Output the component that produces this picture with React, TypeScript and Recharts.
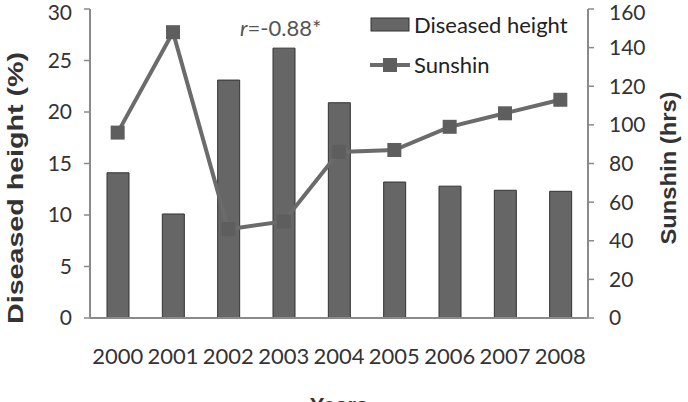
import React from 'react';
import { ComposedChart, Bar, Line, XAxis, YAxis } from 'recharts';

const years = ['2000', '2001', '2002', '2003', '2004', '2005', '2006', '2007', '2008'];
const diseasedHeight = [14.1, 10.1, 23.1, 26.2, 20.9, 13.2, 12.8, 12.4, 12.3];
const sunshine = [96, 148, 46, 50, 86, 87, 99, 106, 113];
const leftTicks = [0, 5, 10, 15, 20, 25, 30];
const rightTicks = [0, 20, 40, 60, 80, 100, 120, 140, 160];

const data = years.map((year, i) => ({
  year,
  diseased: diseasedHeight[i],
  sunshine: sunshine[i],
}));

const tickFont = { fontFamily: 'Lato, sans-serif', fontSize: 21, fill: '#333' };
const xTickFont = { fontFamily: 'Lato, sans-serif', fontSize: 22, fill: '#333' };
const titleFont = { fontFamily: '"Liberation Sans", Arial, sans-serif', fontSize: 22, fontWeight: 'bold', fill: '#333' };

const SquareDot = (props: any) => {
  const { cx, cy } = props;
  if (cx == null || cy == null) return null;
  return <rect x={cx - 7} y={cy - 7} width={14} height={14} fill="#5e5e5e" />;
};

const LegendBox = () => (
  <div
    style={{
      position: 'absolute',
      left: 370,
      top: 13,
      fontFamily: 'Lato, sans-serif',
      fontSize: 22,
      color: '#222',
      lineHeight: '22px',
    }}
  >
    <div style={{ display: 'flex', alignItems: 'center', height: 24 }}>
      <svg width={42} height={16}>
        <rect x={1} y={1} width={38} height={13} fill="#666" stroke="#333" strokeWidth={1} />
      </svg>
      <span style={{ marginLeft: 2 }}>Diseased height</span>
    </div>
    <div style={{ display: 'flex', alignItems: 'center', height: 24, marginTop: 16 }}>
      <svg width={42} height={16}>
        <line x1={0} y1={8} x2={40} y2={8} stroke="#6b6b6b" strokeWidth={4} />
        <rect x={13} y={1} width={14} height={14} fill="#5e5e5e" />
      </svg>
      <span style={{ marginLeft: 2 }}>Sunshin</span>
    </div>
  </div>
);

const App = () => (
  <div style={{ position: 'absolute', left: 0, top: 0, width: 688, height: 402, background: '#fff' }}>
    <ComposedChart width={688} height={402} data={data} margin={{ top: 9, right: 0, bottom: 0, left: 0 }}>
      <XAxis
        dataKey="year"
        height={84}
        tickLine={false}
        tickSize={0}
        tickMargin={30}
        axisLine={{ stroke: '#8a8a8a', strokeWidth: 2 }}
        tick={xTickFont}
        label={{
          content: () => (
            <text x={339} y={413} textAnchor="middle" style={titleFont}>
              Years
            </text>
          ),
        }}
      />
      <YAxis
        yAxisId="left"
        width={90}
        domain={[0, 30]}
        ticks={leftTicks}
        tickSize={6}
        tickMargin={12}
        axisLine={{ stroke: '#8a8a8a', strokeWidth: 2 }}
        tickLine={{ stroke: '#8a8a8a', strokeWidth: 1.5 }}
        tick={tickFont}
        label={{
          content: () => (
            <text
              x={15}
              y={188}
              dy={8}
              textAnchor="middle"
              textLength={272}
              lengthAdjust="spacingAndGlyphs"
              transform="rotate(-90, 15, 188)"
              style={titleFont}
            >
              Diseased height (%)
            </text>
          ),
        }}
      />
      <YAxis
        yAxisId="right"
        orientation="right"
        width={100}
        domain={[0, 160]}
        ticks={rightTicks}
        tickSize={6}
        tickMargin={15}
        axisLine={{ stroke: '#8a8a8a', strokeWidth: 2 }}
        tickLine={{ stroke: '#8a8a8a', strokeWidth: 1.5 }}
        tick={tickFont}
        label={{
          content: () => (
            <text
              x={668}
              y={168}
              dy={8}
              textAnchor="middle"
              textLength={153}
              lengthAdjust="spacingAndGlyphs"
              transform="rotate(-90, 668, 168)"
              style={titleFont}
            >
              Sunshin (hrs)
            </text>
          ),
        }}
      />
      <Bar
        yAxisId="left"
        dataKey="diseased"
        name="Diseased height"
        barSize={22}
        fill="#666666"
        stroke="#333333"
        strokeWidth={1}
        isAnimationActive={false}
      />
      <Line
        yAxisId="right"
        dataKey="sunshine"
        name="Sunshin"
        stroke="#6b6b6b"
        strokeWidth={4}
        dot={<SquareDot />}
        activeDot={false}
        isAnimationActive={false}
      />
    </ComposedChart>
    <LegendBox />
    <div
      style={{
        position: 'absolute',
        left: 240,
        top: 15,
        fontFamily: 'Lato, sans-serif',
        fontSize: 22,
        color: '#555',
        lineHeight: '26px',
      }}
    >
      <i>r</i>=-0.88*
    </div>
  </div>
);

export default App;
